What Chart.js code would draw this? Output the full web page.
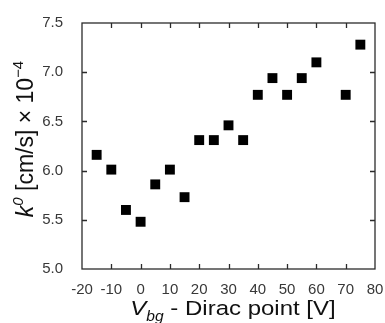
<!DOCTYPE html>
<html>
<head>
<meta charset="utf-8">
<script src="https://cdn.jsdelivr.net/npm/chart.js@4/dist/chart.umd.min.js"></script>
<style>
  html, body { margin: 0; padding: 0; background: #fff; }
  #wrap { width: 385px; height: 323px; position: relative; }
</style>
</head>
<body>
<div id="wrap"><canvas id="c" width="385" height="323"></canvas></div>
<script>
// Gate voltage offset from the Dirac point (V)
const gateVoltage = [-15, -10, -5, 0, 5, 10, 15, 20, 25, 30, 35, 40, 45, 50, 55, 60, 70, 75];
// Heterogeneous electron-transfer rate constant k0 (cm/s, ×10^-4)
const rateConstant = [6.16, 6.01, 5.60, 5.48, 5.86, 6.01, 5.73, 6.31, 6.31, 6.46, 6.31, 6.77, 6.94, 6.77, 6.94, 7.10, 6.77, 7.28];

const xTicks = [-20, -10, 0, 10, 20, 30, 40, 50, 60, 70, 80];
const yTicks = [5.0, 5.5, 6.0, 6.5, 7.0, 7.5];

const FONT = '"Liberation Sans", Arial, sans-serif';
const FRAME = '#2b2b2b';

// Closed frame with inward tick marks on all four sides
const framePlugin = {
  id: 'frame',
  afterDatasetsDraw(chart) {
    const { ctx, chartArea: a, scales } = chart;
    const len = 5;
    ctx.save();
    ctx.strokeStyle = FRAME;
    ctx.lineWidth = 1.3;
    ctx.strokeRect(a.left, a.top, a.right - a.left, a.bottom - a.top);
    ctx.beginPath();
    xTicks.forEach(v => {
      const px = Math.round(scales.x.getPixelForValue(v)) + 0.5;
      if (px <= a.left + 1 || px >= a.right - 1) return;
      ctx.moveTo(px, a.bottom); ctx.lineTo(px, a.bottom - len);
      ctx.moveTo(px, a.top); ctx.lineTo(px, a.top + len);
    });
    yTicks.forEach(v => {
      const py = Math.round(scales.y.getPixelForValue(v)) + 0.5;
      if (py <= a.top + 1 || py >= a.bottom - 1) return;
      ctx.moveTo(a.left, py); ctx.lineTo(a.left + len, py);
      ctx.moveTo(a.right, py); ctx.lineTo(a.right - len, py);
    });
    ctx.stroke();
    ctx.restore();
  }
};

// Draws a run of text pieces with italic / sub / superscript styling
function drawRich(ctx, parts, size, align) {
  const fontOf = p => {
    const s = p.sub || p.sup ? size * 0.65 : size;
    return (p.italic ? 'italic ' : '') + s + 'px ' + FONT;
  };
  const total = parts.reduce((w, p) => { ctx.font = fontOf(p); return w + ctx.measureText(p.t).width; }, 0);
  let x = align === 'center' ? -total / 2 : 0;
  parts.forEach(p => {
    ctx.font = fontOf(p);
    const dy = p.sub ? size * 0.3 : p.sup ? -size * 0.42 : 0;
    ctx.fillText(p.t, x, dy);
    x += ctx.measureText(p.t).width;
  });
}

const titlePlugin = {
  id: 'titles',
  afterDraw(chart) {
    const { ctx, chartArea: a } = chart;
    ctx.save();
    ctx.fillStyle = '#111';
    ctx.textBaseline = 'alphabetic';
    ctx.textAlign = 'left';
    // x-axis title
    ctx.save();
    ctx.translate(233, 315);
    ctx.scale(1, 0.88);
    drawRich(ctx, [
      { t: 'V', italic: true },
      { t: 'bg', italic: true, sub: true },
      { t: ' - Dirac point [V]' }
    ], 24, 'center');
    ctx.restore();
    // y-axis title
    ctx.save();
    ctx.translate(33, 139);
    ctx.rotate(-Math.PI / 2);
    drawRich(ctx, [
      { t: 'k', italic: true },
      { t: '0', italic: true, sup: true },
      { t: ' [cm/s] × 10' },
      { t: '−4', sup: true }
    ], 23, 'center');
    ctx.restore();
    ctx.restore();
  }
};

new Chart(document.getElementById('c'), {
  type: 'scatter',
  data: {
    datasets: [{
      data: gateVoltage.map((v, i) => ({ x: v, y: rateConstant[i] })),
      pointStyle: 'rect',
      pointRadius: 7,
      pointHoverRadius: 7,
      backgroundColor: '#000',
      borderColor: '#000',
      borderWidth: 0
    }]
  },
  options: {
    responsive: false,
    animation: false,
    events: [],
    layout: { padding: { left: 0, right: 10, top: 23, bottom: 0 } },
    plugins: { legend: { display: false }, tooltip: { enabled: false } },
    scales: {
      x: {
        type: 'linear',
        min: -20, max: 80,
        afterBuildTicks: s => { s.ticks = xTicks.map(v => ({ value: v })); },
        afterFit: s => { s.height = 54; s.paddingLeft = 0; s.paddingRight = 0; },
        grid: { display: false, drawTicks: false },
        border: { display: false },
        ticks: {
          padding: 12,
          color: '#383838',
          font: { family: FONT, size: 15 },
          maxRotation: 0,
          callback: v => String(v)
        }
      },
      y: {
        type: 'linear',
        min: 5.0, max: 7.5,
        afterBuildTicks: s => { s.ticks = yTicks.map(v => ({ value: v })); },
        afterFit: s => { s.width = 82; s.paddingTop = 0; s.paddingBottom = 0; },
        grid: { display: false, drawTicks: false },
        border: { display: false },
        ticks: {
          padding: 19,
          color: '#383838',
          font: { family: FONT, size: 15 },
          callback: v => v.toFixed(1)
        }
      }
    }
  },
  plugins: [framePlugin, titlePlugin]
});
</script>
</body>
</html>
